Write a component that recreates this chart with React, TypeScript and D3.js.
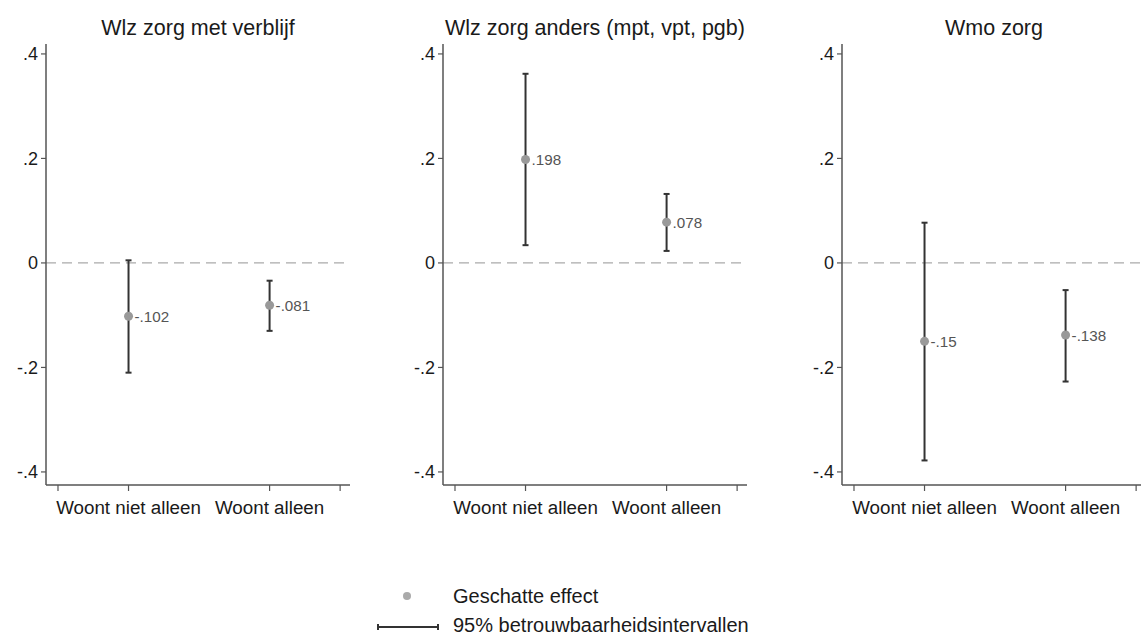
import React from "react";
import * as d3 from "d3";

const panelTitles = ["Wlz zorg met verblijf", "Wlz zorg anders (mpt, vpt, pgb)", "Wmo zorg"];
const categories = ["Woont niet alleen", "Woont alleen"];
const estimates = [
  [-0.102, -0.081],
  [0.198, 0.078],
  [-0.15, -0.138],
];
const ciLow = [
  [-0.21, -0.13],
  [0.034, 0.023],
  [-0.378, -0.227],
];
const ciHigh = [
  [0.005, -0.034],
  [0.362, 0.132],
  [0.077, -0.052],
];
const yTicks = [-0.4, -0.2, 0, 0.2, 0.4];
const xTicks = [0.5, 1, 2, 2.5];
const legendLabels = ["Geschatte effect", "95% betrouwbaarheidsintervallen"];

const W = 1141;
const H = 637;
const panelX = [46, 443, 842];
const font = "'Liberation Sans', Arial, sans-serif";

export default function App() {
  const y = d3.scaleLinear().domain([-0.425, 0.419]).range([485, 44]);
  const fmt = (v: number) => {
    if (v === 0) return "0";
    const s = d3.format(".1f")(Math.abs(v)).replace(/^0/, "");
    return (v < 0 ? "-" : "") + s;
  };
  const fmtVal = (v: number) => {
    const s = String(Math.abs(v)).replace(/^0/, "");
    return (v < 0 ? "-" : "") + s;
  };
  return (
    <svg width={W} height={H} style={{ position: "absolute", left: 0, top: 0, background: "#fff" }} fontFamily={font}>
      {panelTitles.map((title, p) => {
        const x0 = panelX[p];
        const x = d3.scaleLinear().domain([0.415, 2.57]).range([x0, x0 + 304]);
        return (
          <g key={p}>
            <text x={x0 + 152} y={35} textAnchor="middle" fontSize={21.5} fill="#1a1a1a">{title}</text>
            <line x1={x0} x2={x0 + 304} y1={y(0)} y2={y(0)} stroke="#aaa" strokeWidth={1.2} strokeDasharray="10,6" />
            <line x1={x0} x2={x0} y1={y.range()[1]} y2={y.range()[0]} stroke="#555" strokeWidth={1.5} />
            {yTicks.map((t) => (
              <g key={t}>
                <line x1={x0 - 5} x2={x0} y1={y(t)} y2={y(t)} stroke="#555" strokeWidth={1.2} />
                <text x={x0 - 8} y={y(t)} dy="0.36em" textAnchor="end" fontSize={18} fill="#1a1a1a">{fmt(t)}</text>
              </g>
            ))}
            <line x1={x0} x2={x0 + 304} y1={485} y2={485} stroke="#555" strokeWidth={1.5} />
            {xTicks.map((t) => (
              <line key={t} x1={x(t)} x2={x(t)} y1={485} y2={491} stroke="#555" strokeWidth={1.2} />
            ))}
            {categories.map((c, i) => (
              <text key={c} x={x(i + 1)} y={514} textAnchor="middle" fontSize={18.8} fill="#1a1a1a">{c}</text>
            ))}
            {categories.map((c, i) => {
              const cx = x(i + 1);
              return (
                <g key={"e" + c}>
                  <line x1={cx} x2={cx} y1={y(ciHigh[p][i])} y2={y(ciLow[p][i])} stroke="#333" strokeWidth={2} />
                  <line x1={cx - 3} x2={cx + 3} y1={y(ciHigh[p][i])} y2={y(ciHigh[p][i])} stroke="#333" strokeWidth={2} />
                  <line x1={cx - 3} x2={cx + 3} y1={y(ciLow[p][i])} y2={y(ciLow[p][i])} stroke="#333" strokeWidth={2} />
                  <circle cx={cx} cy={y(estimates[p][i])} r={4.5} fill="#999" />
                  <text x={cx + 6} y={y(estimates[p][i])} dy="0.36em" fontSize={15.2} fill="#555">{fmtVal(estimates[p][i])}</text>
                </g>
              );
            })}
          </g>
        );
      })}
      <circle cx={407} cy={596} r={4} fill="#aaa" />
      <text x={453} y={596} dy="0.36em" fontSize={20} fill="#1a1a1a">{legendLabels[0]}</text>
      <line x1={378} x2={438} y1={627} y2={627} stroke="#333" strokeWidth={2} />
      <line x1={378} x2={378} y1={624} y2={630} stroke="#333" strokeWidth={2} />
      <line x1={438} x2={438} y1={624} y2={630} stroke="#333" strokeWidth={2} />
      <text x={453} y={625} dy="0.36em" fontSize={20} fill="#1a1a1a">{legendLabels[1]}</text>
    </svg>
  );
}
